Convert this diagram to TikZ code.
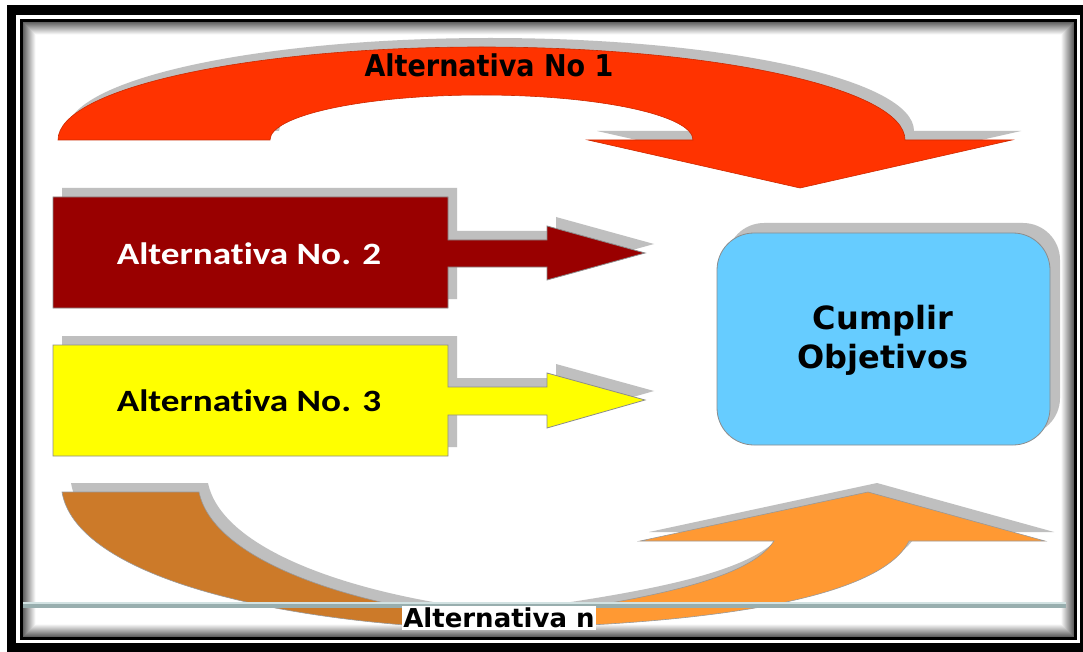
\documentclass[tikz,border=0pt]{standalone}
\usepackage{fontspec}
\usepackage{graphicx}
\newfontfamily\labelfont{DejaVu Sans}
\newfontfamily\boxfont[Ligatures={NoCommon}]{Carlito}

\definecolor{arrowred}{RGB}{255,51,0}
\definecolor{boxred}{RGB}{153,0,0}
\definecolor{boxyellow}{RGB}{255,255,0}
\definecolor{goalblue}{RGB}{102,204,255}
\definecolor{orangeback}{RGB}{204,122,41}
\definecolor{orangefront}{RGB}{255,153,51}
\definecolor{shadowgray}{RGB}{191,191,191}
\definecolor{rulelight}{RGB}{210,226,226}
\definecolor{ruledark}{RGB}{152,174,174}

% outlines of the arrow bodies
\def\redarrowpath{(58,140) arc[start angle=180, end angle=360, x radius=423.5, y radius=93]
  -- (1012,140) -- (800,188) -- (588,140) -- (693,140)
  arc[start angle=0, end angle=-180, x radius=211.5, y radius=45] -- cycle}
\def\boxtwopath{(53,197) -- (448,197) -- (448,240) -- (547,240) -- (547,226) -- (645,253)
  -- (547,280) -- (547,267) -- (448,267) -- (448,308) -- (53,308) -- cycle}
\def\boxthreepath{(53,345) -- (448,345) -- (448,387) -- (547,387) -- (547,373) -- (645,400)
  -- (547,428) -- (547,415) -- (448,415) -- (448,456) -- (53,456) -- cycle}
\def\orangebackpath{(62,492) -- (199,492) .. controls (212,555) and (330,600) .. (470,618)
  -- (470,629) .. controls (250,620) and (75,570) .. (62,492) -- cycle}
\def\orangefrontpath{(430,629) .. controls (700,629) and (880,600) .. (909,541)
  -- (1045,541) -- (868,492) -- (640,541) -- (774,541)
  .. controls (745,585) and (620,605) .. (430,629) -- cycle}

\begin{document}
\begin{tikzpicture}[x=1pt,y=-1pt,
  body/.style={draw=black!45, line width=0.8pt},
  titlelabel/.style={font=\labelfont\bfseries\fontsize{30}{36}\selectfont, text=black, inner sep=0pt},
  boxlabel/.style={font=\boxfont\bfseries\fontsize{31}{37}\selectfont, inner sep=0pt},
  goallabel/.style={font=\labelfont\bfseries\fontsize{32}{39}\selectfont, align=center, text=black, inner sep=0pt}]
\useasboundingbox (0,0) rectangle (1083,652);

% double black frame with an inner shadow
\fill[black] (7,5) rectangle (1083,652);
\fill[white] (16,15) rectangle (1080,643);
\fill[black] (20,19) rectangle (1077,640);
\fill[white] (23,22) rectangle (1074,637);
\foreach \i in {0,...,12}{
  \pgfmathtruncatemacro\g{62-5*\i}
  \draw[line width=1pt, black!\g] ({23.5+\i},{22.5+\i}) rectangle ({1073.5-\i},{636.5-\i});
}
\fill[white] (36,35) rectangle (1061,624);

% Alternativa No 1
\fill[shadowgray, shift={(9,-9)}] \redarrowpath;
\filldraw[fill=arrowred, draw=arrowred!80!black, line width=0.6pt] \redarrowpath;

% Alternativa No. 2 and No. 3
\fill[shadowgray, shift={(9,-9)}] \boxtwopath;
\filldraw[fill=boxred, body] \boxtwopath;
\fill[shadowgray, shift={(9,-9)}] \boxthreepath;
\filldraw[fill=boxyellow, body] \boxthreepath;

% Cumplir Objetivos
\fill[shadowgray, rounded corners=37pt] (727,223) rectangle (1060,435);
\filldraw[fill=goalblue, body, rounded corners=37pt] (717,233) rectangle (1050,445);

% Alternativa n
\fill[shadowgray, shift={(9,-9)}] \orangebackpath;
\filldraw[fill=orangeback, draw=black!40, line width=0.6pt] \orangebackpath;
\fill[shadowgray, shift={(9,-9)}] \orangefrontpath;
\filldraw[fill=orangefront, draw=black!40, line width=0.6pt] \orangefrontpath;

% horizontal rule across the bottom
\fill[ruledark] (23,602) rectangle (1066,608);
\fill[rulelight] (23,601.5) rectangle (1066,604);

% labels
\node[titlelabel] (alt1) at (489,65) {\scalebox{0.9}[1]{Alternativa No 1}};
\node[boxlabel, text=white] (alt2) at (249,254) {\scalebox{1.2}[1]{Alternativa No. 2}};
\node[boxlabel, text=black] (alt3) at (249,401) {\scalebox{1.2}[1]{Alternativa No. 3}};
\node[goallabel] (goal) at (883,340) {Cumplir\\Objetivos};
\node[font=\labelfont\bfseries\fontsize{26}{30}\selectfont, text=black, fill=white,
      inner xsep=1pt, inner ysep=2pt] (altn) at (499,618) {Alternativa n};
\end{tikzpicture}
\end{document}
